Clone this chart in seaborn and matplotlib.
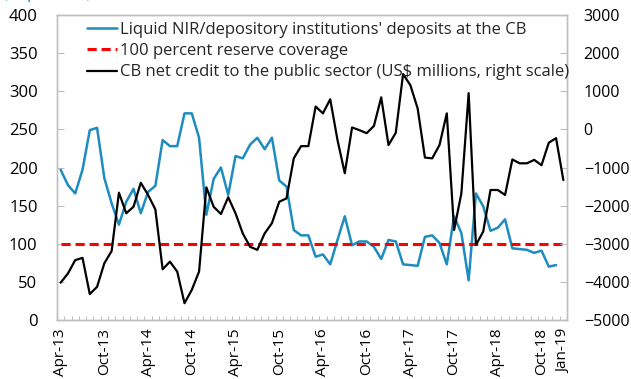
import matplotlib
matplotlib.use("Agg")
import matplotlib.pyplot as plt
from matplotlib.ticker import FixedLocator, MultipleLocator
from matplotlib.lines import Line2D
import seaborn as sns
import pandas as pd
import numpy as np

# Monthly observations, Apr-2013 .. Jan-2019
months = pd.date_range("2013-04-01", periods=70, freq="MS")

# Liquid NIR / depository institutions' deposits at the CB (percent), through Dec-2018
nir_ratio = [197, 177, 166, 197, 249, 252, 186, 153, 125, 155,
             172, 140, 168, 176, 236, 228, 228, 271, 271, 239,
             138, 185, 200, 164, 215, 212, 230, 239, 224, 239,
             183, 175, 118, 111, 111, 83, 86, 73, 105, 136,
             98, 103, 103, 96, 80, 105, 103, 73, 72, 71,
             109, 111, 101, 73, 136, 114, 52, 166, 149, 117,
             121, 132, 94, 93, 92, 88, 91, 70, 72]

# 100 percent reserve coverage reference
coverage = [100] * len(months)

# CB net credit to the public sector (US$ millions), through Jan-2019
cb_credit = [-4020, -3780, -3430, -3370, -4320, -4130, -3510, -3190, -1660, -2200,
             -2030, -1400, -1720, -2100, -3670, -3470, -3730, -4560, -4210, -3730,
             -1520, -2030, -2220, -1780, -2200, -2730, -3080, -3160, -2730, -2460,
             -1900, -1810, -760, -440, -440, 600, 420, 790, -280, -1150,
             50, -20, -100, 90, 840, -410, -90, 1450, 1160, 550,
             -740, -760, -410, 420, -2640, -1680, 950, -3030, -2680, -1590,
             -1590, -1720, -790, -890, -890, -800, -940, -350, -230, -1330]

labels = ["Liquid NIR/depository institutions' deposits at the CB",
          "100 percent reserve coverage",
          "CB net credit to the public sector (US$ millions, right scale)"]

BLUE = "#1E8CBF"
RED = "#FF0000"
GRAY = "#BFBFBF"

sns.set_theme(style="white")
plt.rcParams["font.family"] = ["Open Sans", "DejaVu Sans"]

idx = np.arange(len(months))
df_left = pd.DataFrame({"i": idx[:len(nir_ratio)], "v": nir_ratio})
df_cov = pd.DataFrame({"i": idx, "v": coverage})
df_right = pd.DataFrame({"i": idx, "v": cb_credit})

fig = plt.figure(figsize=(6.31, 3.79), dpi=100)
ax = fig.add_axes([57 / 631, 1 - 320 / 379, 510 / 631, 305 / 379])
ax2 = ax.twinx()

sns.lineplot(data=df_left, x="i", y="v", ax=ax, color=BLUE, linewidth=1.8)
sns.lineplot(data=df_cov, x="i", y="v", ax=ax, color=RED, linewidth=2.2,
             linestyle=(0, (3, 1.6)))
sns.lineplot(data=df_right, x="i", y="v", ax=ax2, color="black", linewidth=1.6)

ax.set_xlim(-0.5, len(months) - 0.5)
ax.set_ylim(0, 400)
ax2.set_ylim(-5000, 3000)
ax.yaxis.set_major_locator(MultipleLocator(50))
ax2.yaxis.set_major_locator(MultipleLocator(1000))

major_pos = list(range(0, len(months), 6)) + [len(months) - 1]
ax.xaxis.set_major_locator(FixedLocator(major_pos))
ax.set_xticklabels([months[p].strftime("%b-%y") for p in major_pos], rotation=90)
ax.xaxis.set_minor_locator(FixedLocator(np.arange(-0.5, len(months), 1.0)))

for a in (ax, ax2):
    a.set_xlabel("")
    a.set_ylabel("")
    for s in a.spines.values():
        s.set_color(GRAY)
        s.set_linewidth(1.0)

ax.tick_params(axis="x", which="major", length=0, pad=6, labelsize=11,
               colors="black")
ax.tick_params(axis="x", which="minor", direction="in", length=3, width=0.8,
               color=GRAY, bottom=True)
ax.tick_params(axis="y", direction="in", length=5, width=0.8, color=GRAY,
               labelsize=12, pad=14)
ax2.tick_params(axis="y", direction="in", length=5, width=0.8, color=GRAY,
                labelsize=11.5, pad=12)
ax.tick_params(axis="y", labelcolor="black")
ax2.tick_params(axis="y", labelcolor="black")

handles = [Line2D([], [], color=BLUE, linewidth=1.8),
           Line2D([], [], color=RED, linewidth=2.2, linestyle=(0, (3, 1.6))),
           Line2D([], [], color="black", linewidth=1.6)]
leg = ax2.legend(handles, labels, loc="upper left", frameon=False,
                 fontsize=12, handlelength=1.85, handletextpad=0.15,
                 labelspacing=0.32, borderaxespad=0.0,
                 bbox_to_anchor=(0.045, 1.0))

fig.text(3 / 631, 1 + 2.5 / 379, "(In percent)", color=BLUE, fontsize=12,
         ha="left", va="baseline")

fig.savefig("out.png", dpi=100)
